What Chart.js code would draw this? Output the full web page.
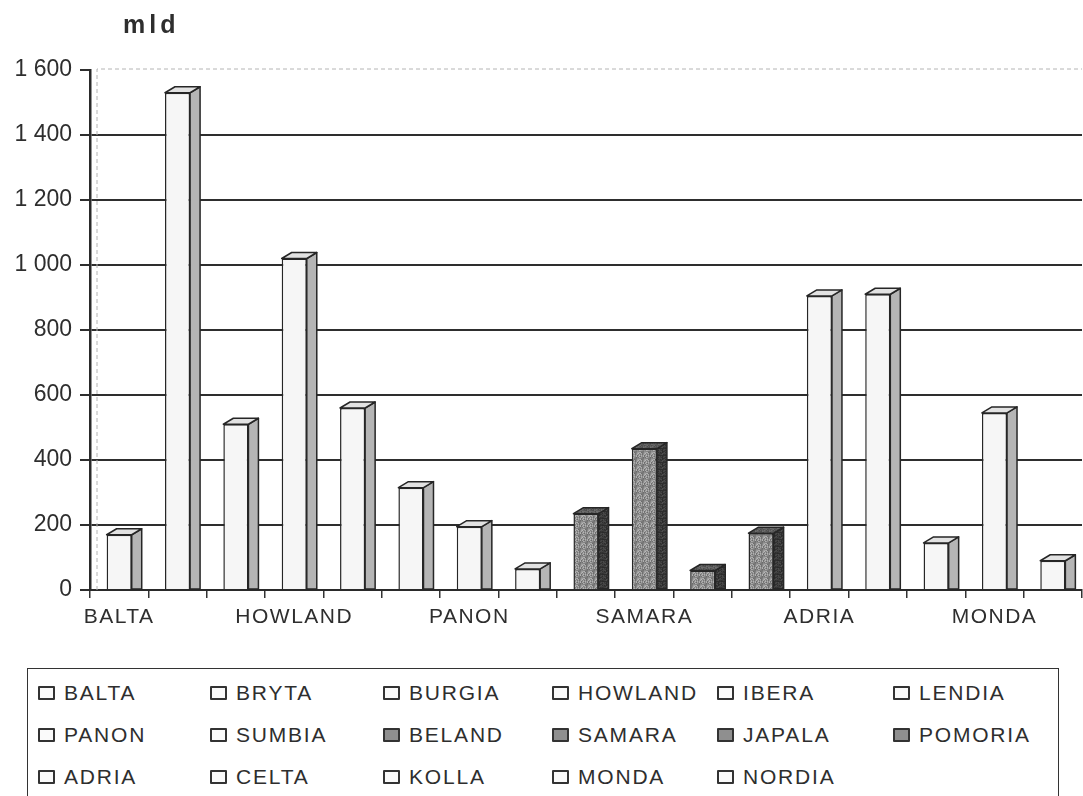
<!DOCTYPE html>
<html><head><meta charset="utf-8">
<script src="https://cdn.jsdelivr.net/npm/chart.js@4.4.0/dist/chart.umd.min.js"></script>
<style>
html,body{margin:0;padding:0;background:#fff;width:1083px;height:796px;overflow:hidden;font-family:"Liberation Sans",Arial,sans-serif;}
#wrap{position:absolute;left:0;top:0;width:1083px;height:640px;}
#title{position:absolute;left:123px;top:10px;font-weight:bold;font-size:25px;letter-spacing:4px;color:#2e2e2e;}
#legend{position:absolute;left:27px;top:668px;width:1032px;height:140px;border:1.5px solid #333;box-sizing:border-box;}
.item{position:absolute;font-size:21px;letter-spacing:1.8px;color:#2e2e2e;display:flex;align-items:center;white-space:nowrap;line-height:22px;}
.sw{width:13px;height:10px;border:2px solid #333;margin-right:9px;background:#fafafa;border-radius:1px;}
.sw.dark{background:#8f8f8f;}
</style></head>
<body>
<div id="wrap"><canvas id="c" width="1083" height="640"></canvas></div>
<div id="title">mld</div>
<div id="legend"></div>
<script>
const categories = ['BALTA','BRYTA','BURGIA','HOWLAND','IBERA','LENDIA','PANON','SUMBIA','BELAND','SAMARA','JAPALA','POMORIA','ADRIA','CELTA','KOLLA','MONDA','NORDIA'];
const values = [170,1530,510,1020,560,315,195,65,235,435,60,175,905,910,145,545,90];
const darkCategories = ['BELAND','SAMARA','JAPALA','POMORIA'];
const xTickLabels = ['BALTA','HOWLAND','PANON','SAMARA','ADRIA','MONDA'];
const yMax = 1600, yStep = 200;

const isDark = i => darkCategories.includes(categories[i]);

// stipple texture for shaded bars (deterministic)
function makePattern(ctx, baseLevel, spread){
  const n = 7;
  const p = document.createElement('canvas'); p.width = n; p.height = n;
  const pc = p.getContext('2d');
  for(let yy=0; yy<n; yy++) for(let xx=0; xx<n; xx++){
    const g = Math.round(baseLevel + ((xx*37 + yy*91 + xx*yy*13) % spread) - spread/2);
    pc.fillStyle = `rgb(${g},${g},${g})`; pc.fillRect(xx,yy,1,1);
  }
  return ctx.createPattern(p,'repeat');
}

const canvas = document.getElementById('c');
const ctx0 = canvas.getContext('2d');
const darkFront = makePattern(ctx0, 148, 80);
const darkSide = makePattern(ctx0, 60, 36);
const darkTop = makePattern(ctx0, 95, 40);

const fmt = v => String(v).replace(/\B(?=(\d{3})+(?!\d))/g, ' ');
const FONT = '"Liberation Sans", Arial, sans-serif';

const spacingOff = { id:'spacingOff', beforeDraw(chart){ chart.ctx.letterSpacing = '0px'; } };

const wall = {
  id:'wall',
  beforeDatasetsDraw(chart){
    const {ctx, chartArea:a} = chart;
    ctx.save();
    ctx.strokeStyle = '#b4b4b4'; ctx.lineWidth = 1; ctx.setLineDash([4,3]);
    ctx.beginPath();
    ctx.moveTo(a.left+7, a.bottom); ctx.lineTo(a.left+7, a.top-1); ctx.lineTo(a.right, a.top-1);
    ctx.stroke();
    ctx.restore();
  }
};

const bar3d = {
  id:'bar3d',
  afterDatasetsDraw(chart){
    const ctx = chart.ctx, meta = chart.getDatasetMeta(0);
    meta.data.forEach((bar,i)=>{
      const {x,y,base,width} = bar.getProps(['x','y','base','width'], true);
      const l = x - width/2, r = x + width/2, d = 10, h = 6;
      const dk = isDark(i);
      ctx.save();
      ctx.lineWidth = 1.5; ctx.strokeStyle = '#262626'; ctx.lineJoin = 'round';
      ctx.beginPath();
      ctx.moveTo(r, y); ctx.lineTo(r+d, y-h); ctx.lineTo(r+d, base); ctx.lineTo(r, base); ctx.closePath();
      ctx.fillStyle = dk ? darkSide : '#b5b5b5'; ctx.fill(); ctx.stroke();
      ctx.beginPath();
      ctx.moveTo(l, y); ctx.lineTo(l+d, y-h); ctx.lineTo(r+d, y-h); ctx.lineTo(r, y); ctx.closePath();
      ctx.fillStyle = dk ? darkTop : '#e2e2e2'; ctx.fill(); ctx.stroke();
      ctx.restore();
    });
    // x labels (drawn on a later layer) get the wide letter spacing of the original
    ctx.letterSpacing = '1.5px';
  }
};

new Chart(canvas, {
  type:'bar',
  data:{
    labels: categories,
    datasets:[{
      data: values,
      backgroundColor: values.map((v,i)=> isDark(i) ? darkFront : '#f6f6f6'),
      borderColor:'#262626',
      borderWidth:1.5,
      barPercentage:0.43,
      categoryPercentage:1
    }]
  },
  options:{
    responsive:false, animation:false,
    layout:{padding:{left:0,right:1,top:70,bottom:0}},
    plugins:{legend:{display:false}, tooltip:{enabled:false}},
    scales:{
      x:{
        offset:true,
        grid:{offset:true, drawOnChartArea:false, drawTicks:true, tickLength:8, color:'#333', lineWidth:1.5},
        border:{color:'#2a2a2a', width:2},
        ticks:{autoSkip:false, maxRotation:0, padding:7, color:'#2e2e2e', z:1,
          font:{size:21, family:FONT},
          callback:(v,i)=> xTickLabels.includes(categories[i]) ? categories[i] : ''},
        afterFit(s){ s.height = 50; }
      },
      y:{
        min:0, max:yMax,
        ticks:{stepSize:yStep, padding:8, color:'#2e2e2e',
          font:{size:23, family:FONT},
          callback:v=>fmt(v)},
        grid:{color:c=> (c.tick && (c.tick.value===yMax || c.tick.value===0)) ? 'rgba(0,0,0,0)' : '#2e2e2e',
          tickColor:'#2e2e2e', lineWidth:2, tickLength:10},
        border:{color:'#2a2a2a', width:2.5},
        afterFit(s){ s.width = 90; }
      }
    }
  },
  plugins:[spacingOff, wall, bar3d]
});

// legend
const legend = document.getElementById('legend');
const colX = [10, 182, 355, 524, 689, 865];
categories.forEach((name,i)=>{
  const row = Math.floor(i/6), col = i%6;
  const it = document.createElement('div');
  it.className = 'item';
  it.style.left = colX[col] + 'px';
  it.style.top = (13 + row*42) + 'px';
  const sw = document.createElement('span');
  sw.className = 'sw' + (isDark(i) ? ' dark' : '');
  it.appendChild(sw);
  it.appendChild(document.createTextNode(name));
  legend.appendChild(it);
});
</script>
</body></html>
